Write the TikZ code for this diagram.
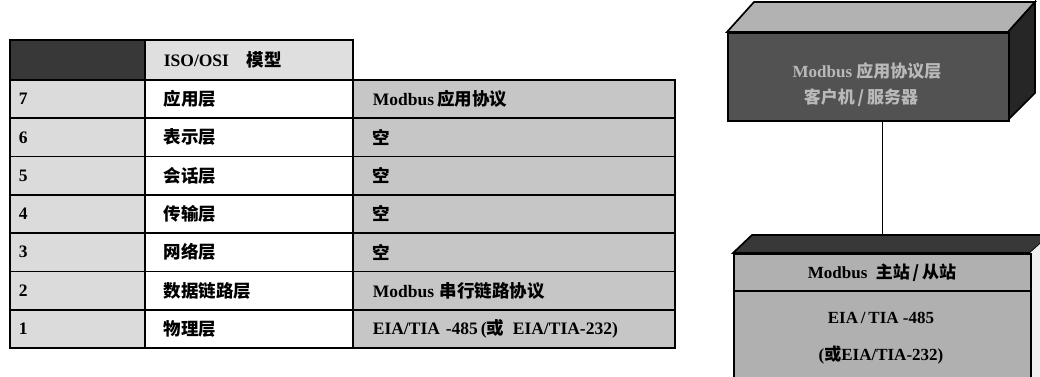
\documentclass[tikz,border=0pt]{standalone}
\usepackage{fontspec}
\setmainfont{Liberation Serif}
\newfontfamily\cjk{Noto Sans CJK SC}
\begin{document}
\begin{tikzpicture}[x=1pt,y=-1pt,
  line width=1.7pt,
  cell/.style={draw=black, anchor=north west, minimum height=38.3pt, inner ysep=0pt,
    align=left, font=\bfseries\fontsize{17.5}{19}\selectfont},
  c1/.style={cell, fill=gray!28, text width=119pt, inner xsep=9pt},
  c2/.style={cell, fill=white, text width=170pt, inner xsep=19pt},
  c3/.style={cell, fill=gray!45, text width=282pt, inner xsep=20pt},
  boxtxt/.style={font=\bfseries\fontsize{17}{19}\selectfont},
]
\useasboundingbox (0,0) rectangle (1040,376);
\clip (0,0) rectangle (1040,376);
% header row
\node[cell, fill=black!78, text width=119pt, inner xsep=9pt, minimum height=40pt] (h1) at (9,39) {};
\node[cell, fill=gray!25, text width=170pt, inner xsep=19pt, minimum height=40pt] (h2) at (144,39) {ISO/OSI\quad{\cjk 模型}};
% rows
\node[c1] (n7) at (9,79.0) {7};
\node[c2] (l7) at (144,79.0) {\cjk 应用层};
\node[c3] (p7) at (352,79.0) {Modbus\,{\cjk 应用协议}};
\node[c1] (n6) at (9,117.3) {6};
\node[c2] (l6) at (144,117.3) {\cjk 表示层};
\node[c3] (p6) at (352,117.3) {\cjk 空};
\node[c1] (n5) at (9,155.6) {5};
\node[c2] (l5) at (144,155.6) {\cjk 会话层};
\node[c3] (p5) at (352,155.6) {\cjk 空};
\node[c1] (n4) at (9,193.9) {4};
\node[c2] (l4) at (144,193.9) {\cjk 传输层};
\node[c3] (p4) at (352,193.9) {\cjk 空};
\node[c1] (n3) at (9,232.2) {3};
\node[c2] (l3) at (144,232.2) {\cjk 网络层};
\node[c3] (p3) at (352,232.2) {\cjk 空};
\node[c1] (n2) at (9,270.5) {2};
\node[c2] (l2) at (144,270.5) {\cjk 数据链路层};
\node[c3] (p2) at (352,270.5) {Modbus\ {\cjk 串行链路协议}};
\node[c1] (n1) at (9,308.8) {1};
\node[c2] (l1) at (144,308.8) {\cjk 物理层};
\node[c3] (p1) at (352,308.8) {EIA/TIA -485\,({\cjk 或}\, EIA/TIA-232)};

% top 3D box
\filldraw[fill=gray!60, draw=black] (727,32) -- (754,2) -- (1035,2) -- (1008,32) -- cycle;
\filldraw[fill=black!85, draw=black] (1008,32) -- (1035,2) -- (1035,93) -- (1008,120) -- cycle;
\node[draw=black, fill=black!68, anchor=north west, minimum width=281pt, minimum height=88pt, inner sep=0pt] (app) at (727,32) {};
\node[boxtxt, text=gray!55] (appt1) at (867,71) {Modbus\ {\cjk 应用协议层}};
\node[boxtxt, text=gray!55] (appt2) at (861,98) {\cjk 客户机\,/\,服务器};

% bottom 3D box
\filldraw[fill=black!78, draw=black] (733,253) -- (752,235) -- (1050,235) -- (1030,253) -- cycle;
\filldraw[fill=gray!12, draw=none] (1030,253) -- (1050,235) -- (1050,380) -- (1030,380) -- cycle;
\node[draw=black, fill=gray!62, anchor=north west, minimum width=297pt, minimum height=130pt, inner sep=0pt] (phy) at (733,253) {};
\coordinate (div) at (733,291);
\draw (div) -- (div -| phy.east);
\node[boxtxt] (phyt1) at (882,273) {Modbus\ \ {\cjk 主站\,/\,从站}};
\node[boxtxt] (phyt2) at (881,318) {EIA\,/\,TIA -485};
\node[boxtxt] (phyt3) at (881,355) {({\cjk 或}EIA/TIA-232)};

% connector
\coordinate (ptop) at (phy.north |- 0,236);
\draw (app.south -| phy.north) -- (ptop);
\end{tikzpicture}
\end{document}
